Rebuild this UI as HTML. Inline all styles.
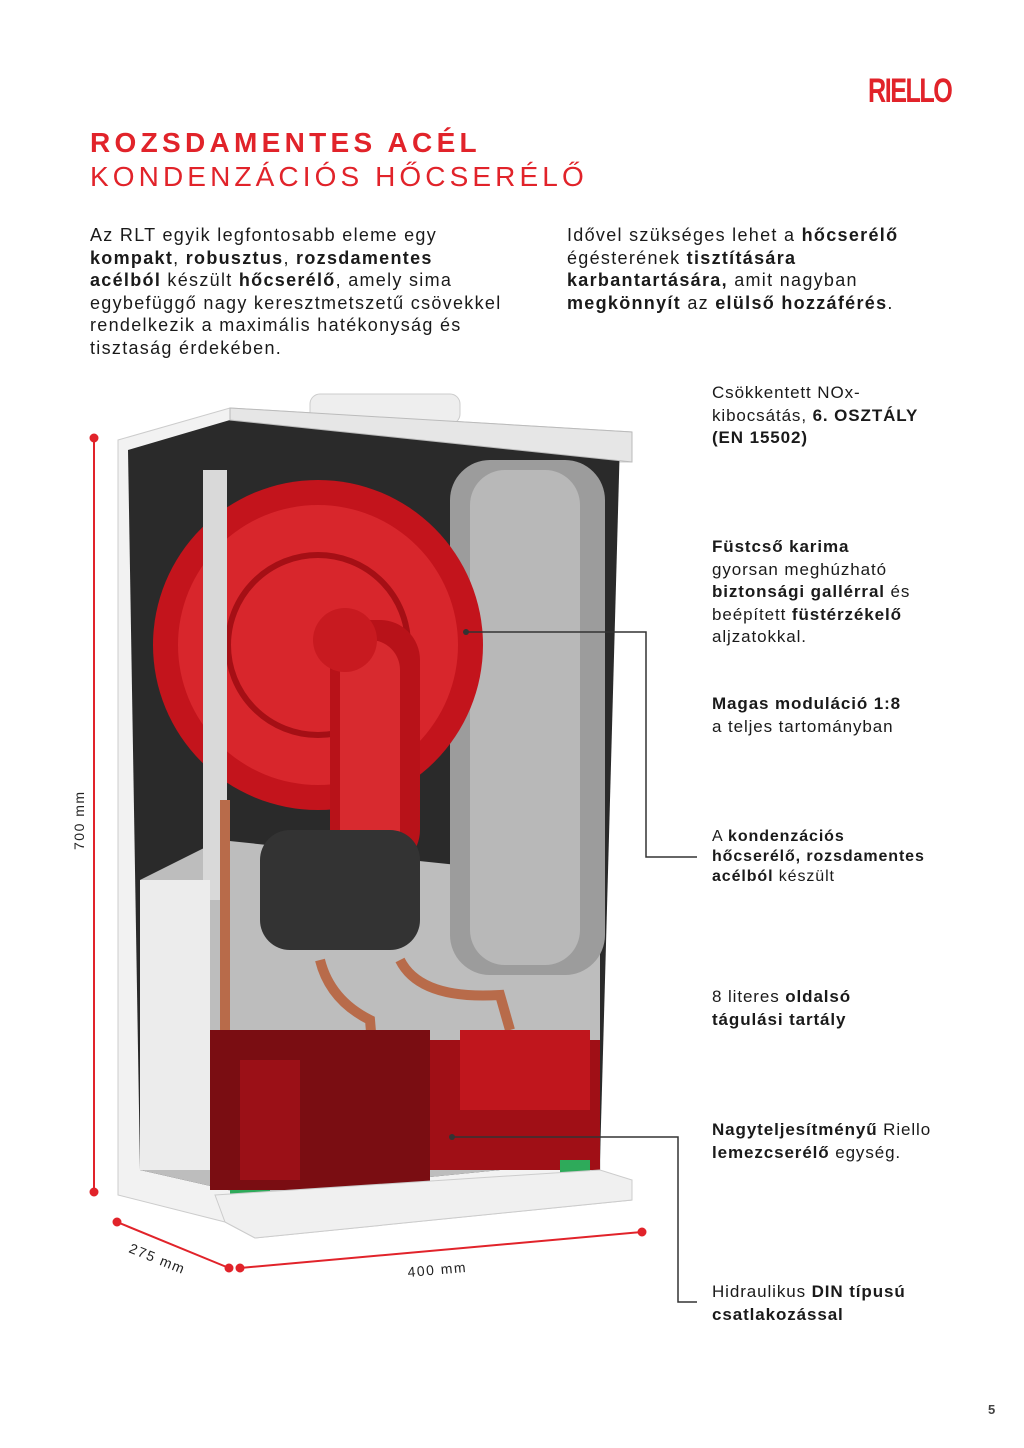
<!DOCTYPE html>
<html><head><meta charset="utf-8">
<style>
body{margin:0;background:#fff;}
#p{position:relative;width:1024px;height:1448px;overflow:hidden;font-family:"Liberation Sans",sans-serif;color:#1a1a1a;}
.a{position:absolute;white-space:nowrap;}
.t{font-size:28px;letter-spacing:4.3px;color:#e1232a;line-height:34px;}
.b{font-size:18px;line-height:22.6px;letter-spacing:1.3px;}
.r{font-size:17px;line-height:22.5px;letter-spacing:0.9px;}
b{font-weight:bold;}
</style></head><body><div id="p">
<div class="a" style="left:868px;top:72px;font-size:34px;font-weight:bold;color:#e1232a;letter-spacing:-2px;transform:scaleX(0.74);transform-origin:left;">RIELLO</div>
<div class="a t" style="left:90px;top:126px;font-weight:bold;">ROZSDAMENTES ACÉL</div>
<div class="a t" style="left:90px;top:160px;letter-spacing:4.1px;">KONDENZÁCIÓS HŐCSERÉLŐ</div>
<div class="a b" style="left:90px;top:224px;">Az RLT egyik legfontosabb eleme egy<br><b>kompakt</b>, <b>robusztus</b>, <b>rozsdamentes</b><br><b>acélból</b> készült <b>hőcserélő</b>, amely sima<br>egybefüggő nagy keresztmetszetű csövekkel<br>rendelkezik a maximális hatékonyság és<br>tisztaság érdekében.</div>
<div class="a b" style="left:567px;top:224px;">Idővel szükséges lehet a <b>hőcserélő</b><br>égésterének <b>tisztítására</b><br><b>karbantartására,</b> amit nagyban<br><b>megkönnyít</b> az <b>elülső hozzáférés</b>.</div>

<svg class="a" style="left:0;top:0" width="1024" height="1448">
<polygon points="118,440 230,408 632,432 632,462 600,462 600,1180 632,1180 632,1200 255,1238 225,1222 118,1195" fill="#f2f2f2" stroke="#ccc"/>
<polygon points="128,450 230,420 620,440 600,1160 250,1195 140,1170" fill="#2a2a2a"/>
<polygon points="140,880 220,840 600,880 600,1160 250,1195 140,1170" fill="#bdbdbd"/>
<rect x="310" y="394" width="150" height="30" rx="10" fill="#eee" stroke="#ccc"/>
<polygon points="230,408 632,432 632,462 230,420" fill="#e6e6e6" stroke="#bbb"/>
<rect x="450" y="460" width="155" height="515" rx="40" fill="#9c9c9c"/>
<rect x="470" y="470" width="110" height="495" rx="35" fill="#b8b8b8"/>
<circle cx="318" cy="645" r="165" fill="#c3141c"/>
<circle cx="318" cy="645" r="140" fill="#d8262c"/>
<circle cx="318" cy="645" r="90" fill="none" stroke="#a50f15" stroke-width="6"/>
<rect x="330" y="620" width="90" height="250" rx="40" fill="#b81219"/>
<rect x="340" y="640" width="60" height="230" rx="30" fill="#d82a2f"/>
<circle cx="345" cy="640" r="32" fill="#c81a20"/>
<rect x="203" y="470" width="24" height="430" fill="#d9d9d9"/>
<path d="M225 800 L225 1160" stroke="#b86b4a" stroke-width="10" fill="none"/>
<path d="M320 960 Q330 1000 370 1020 L375 1080" stroke="#b86b4a" stroke-width="10" fill="none"/>
<path d="M400 960 Q420 1000 500 995 L510 1030" stroke="#b86b4a" stroke-width="10" fill="none"/>
<rect x="260" y="830" width="160" height="120" rx="30" fill="#333"/>
<rect x="140" y="880" width="70" height="290" fill="#ececec"/>
<rect x="210" y="1030" width="220" height="160" fill="#7a0d12"/>
<rect x="430" y="1040" width="170" height="130" fill="#a00f16"/>
<rect x="460" y="1030" width="130" height="80" fill="#c0161d"/>
<rect x="240" y="1060" width="60" height="120" fill="#9b1017"/>
<rect x="230" y="1190" width="40" height="18" fill="#2eaa5a"/>
<rect x="560" y="1160" width="30" height="16" fill="#2eaa5a"/>
<polygon points="215,1195 600,1170 632,1180 632,1200 255,1238 225,1222" fill="#f0f0f0" stroke="#ccc"/>
<g stroke="#e1232a" stroke-width="2" fill="#e1232a">
<line x1="94" y1="438" x2="94" y2="1192"/><circle cx="94" cy="438" r="3.5"/><circle cx="94" cy="1192" r="3.5"/>
<line x1="117" y1="1222" x2="229" y2="1268"/><circle cx="117" cy="1222" r="3.5"/><circle cx="229" cy="1268" r="3.5"/>
<line x1="240" y1="1268" x2="642" y2="1232"/><circle cx="240" cy="1268" r="3.5"/><circle cx="642" cy="1232" r="3.5"/>
</g>
<text transform="translate(84,850) rotate(-90)" font-family="Liberation Sans" font-size="14" letter-spacing="1.5" fill="#222">700 mm</text>
<text transform="translate(128,1252) rotate(22)" font-family="Liberation Sans" font-size="14" letter-spacing="1.5" fill="#222">275 mm</text>
<text transform="translate(408,1277) rotate(-5)" font-family="Liberation Sans" font-size="14" letter-spacing="1.5" fill="#222">400 mm</text>
<g stroke="#333" stroke-width="1.5" fill="none">
<polyline points="466,632 646,632 646,857 697,857"/>
<polyline points="452,1137 678,1137 678,1302 697,1302"/>
</g>
<circle cx="466" cy="632" r="3" fill="#333"/>
<circle cx="452" cy="1137" r="3" fill="#333"/>
</svg>

<div class="a r" style="left:712px;top:382px;">Csökkentett NOx-<br>kibocsátás, <b>6. OSZTÁLY<br>(EN 15502)</b></div>
<div class="a r" style="left:712px;top:536px;"><b>Füstcső karima</b><br>gyorsan meghúzható<br><b>biztonsági gallérral</b> és<br>beépített <b>füstérzékelő</b><br>aljzatokkal.</div>
<div class="a r" style="left:712px;top:693px;"><b>Magas moduláció 1:8</b><br>a teljes tartományban</div>
<div class="a" style="left:712px;top:827px;font-size:16px;line-height:20px;letter-spacing:0.9px;">A <b>kondenzációs<br>hőcserélő, rozsdamentes<br>acélból</b> készült</div>
<div class="a r" style="left:712px;top:986px;">8 literes <b>oldalsó<br>tágulási tartály</b></div>
<div class="a r" style="left:712px;top:1119px;"><b>Nagyteljesítményű</b> Riello<br><b>lemezcserélő</b> egység.</div>
<div class="a r" style="left:712px;top:1281px;">Hidraulikus <b>DIN típusú<br>csatlakozással</b></div>
<div class="a" style="left:988px;top:1402px;font-size:13px;font-weight:bold;color:#444;">5</div>
</div></body></html>
